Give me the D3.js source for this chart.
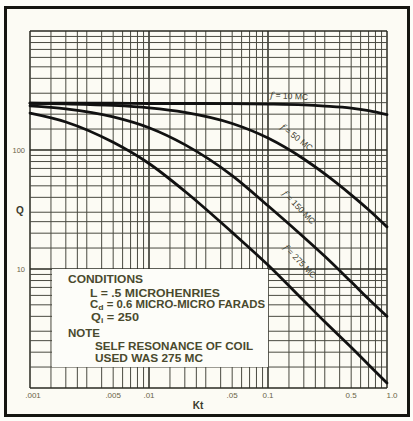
<!DOCTYPE html>
<html>
<head>
<meta charset="utf-8">
<script src="https://cdn.jsdelivr.net/npm/d3@7"></script>
<style>
html,body{margin:0;padding:0;background:#fdfdf8;}
svg{display:block;}
</style>
</head>
<body>
<svg id="chart" width="413" height="421"></svg>
<script>
// ---- data ----
const ktValues = [0.001, 0.002, 0.005, 0.01, 0.02, 0.05, 0.1, 0.2, 0.3, 0.5, 0.7, 1.0];
const qF10  = [247, 247, 247, 246, 246, 245, 243, 239, 234, 225, 214, 198];
const qF50  = [247, 244, 237, 226, 207, 167, 126, 84, 63, 42, 31.5, 22.6];
const qF150 = [235, 222, 190, 154, 111, 61, 34, 18.5, 12.8, 7.8, 5.6, 4.0];
const qF275 = [204, 172, 116, 77, 45, 20.3, 10.8, 5.4, 3.6, 2.2, 1.57, 1.1];
const seriesNames = ["10", "50", "150", "275"];
const xTickValues = [0.001, 0.005, 0.01, 0.05, 0.1, 0.5, 1.0];
const xTickLabels = [".001", ".005", ".01", ".05", "0.1", "0.5", "1.0"];
const yTickValues = [10, 100];
const yTickLabels = ["10", "100"];
const gridMultipliers = [1, 1.5, 2, 2.5, 3, 4, 5, 6, 7, 8, 9];
const conditionLines = ["CONDITIONS", "L = .5 MICROHENRIES", "Cd = 0.6 MICRO-MICRO FARADS", "Qi = 250", "NOTE", "SELF RESONANCE OF COIL", "USED WAS 275 MC"];

const svg = d3.select("#chart");
const x = d3.scaleLog().domain([0.001, 1]).range([30, 387]);
const y = d3.scaleLog().domain([1, 1000]).range([388, 31]);

// outer frame
svg.append("rect").attr("x", 5.5).attr("y", 7.5).attr("width", 403).attr("height", 408)
  .attr("fill", "#fcfbf4").attr("stroke", "#151510").attr("stroke-width", 3);

// grid
const xGrid = [];
[0.001, 0.01, 0.1].forEach(d => gridMultipliers.forEach(m => xGrid.push(d * m)));
xGrid.push(1);
const yGrid = [];
[1, 10, 100].forEach(d => gridMultipliers.forEach(m => yGrid.push(d * m)));
yGrid.push(1000);
const isMajor = v => Math.abs(Math.log10(v) - Math.round(Math.log10(v))) < 1e-6;

const g = svg.append("g");
g.selectAll("line.vx").data(xGrid).join("line").attr("class", "vx")
  .attr("x1", d => x(d)).attr("x2", d => x(d)).attr("y1", y(1000)).attr("y2", y(1))
  .attr("stroke", d => isMajor(d) ? "#2a2a22" : "#4a4a40")
  .attr("stroke-width", d => isMajor(d) ? 1.5 : 1);
g.selectAll("line.hy").data(yGrid).join("line").attr("class", "hy")
  .attr("y1", d => y(d)).attr("y2", d => y(d)).attr("x1", x(0.001)).attr("x2", x(1))
  .attr("stroke", d => isMajor(d) ? "#2a2a22" : "#4a4a40")
  .attr("stroke-width", d => isMajor(d) ? 1.5 : 1);

// conditions box
svg.append("rect").attr("x", 52).attr("y", 269).attr("width", 216).attr("height", 98)
  .attr("fill", "#fdfdf9");

// curves
const allSeries = [qF10, qF50, qF150, qF275];
const line = d3.line().x((d, i) => x(ktValues[i])).y(d => y(d)).curve(d3.curveMonotoneX);
svg.selectAll("path.curve").data(allSeries).join("path").attr("class", "curve")
  .attr("d", d => line(d)).attr("fill", "none").attr("stroke", "#111")
  .attr("stroke-width", 2.8).attr("stroke-linecap", "round");

// curve labels (placed just above each curve)
const labelPos = [
  {x: 270, y: 98, a: 3},
  {x: 280, y: 128, a: 38},
  {x: 282, y: 194, a: 46},
  {x: 283, y: 248, a: 46}
];
seriesNames.forEach((n, i) => {
  const p = labelPos[i];
  const t = svg.append("text").attr("transform", `translate(${p.x},${p.y}) rotate(${p.a})`)
    .attr("font-family", "Liberation Sans, Arial, sans-serif").attr("font-size", 8.5)
    .attr("fill", "#3a3a2c");
  t.append("tspan").attr("font-style", "italic").attr("font-family", "DejaVu Serif, serif").text("f");
  t.append("tspan").text(" = " + n + " MC");
});

// axis tick labels
const tickFont = "Liberation Sans, Arial, sans-serif";
svg.selectAll("text.xt").data(xTickValues).join("text").attr("class", "xt")
  .attr("x", (d, i) => x(d) + (i === xTickValues.length - 1 ? 5 : (i === 0 ? 3 : 0)))
  .attr("y", 398).attr("text-anchor", "middle")
  .attr("font-family", tickFont).attr("font-size", 8).attr("fill", "#6a6446")
  .text((d, i) => xTickLabels[i]);
svg.selectAll("text.yt").data(yTickValues).join("text").attr("class", "yt")
  .attr("x", 25).attr("y", d => y(d) + 3).attr("text-anchor", "end")
  .attr("font-family", tickFont).attr("font-size", 7.5).attr("fill", "#6a6446")
  .text((d, i) => yTickLabels[i]);

// axis titles
svg.append("text").attr("x", 20).attr("y", 214).attr("text-anchor", "middle")
  .attr("font-family", tickFont).attr("font-weight", "bold").attr("font-size", 10).attr("fill", "#3a3a2c").text("Q");
svg.append("text").attr("x", 198).attr("y", 409).attr("text-anchor", "middle")
  .attr("font-family", tickFont).attr("font-weight", "bold").attr("font-size", 10).attr("fill", "#3a3a2c").text("Kt");

// conditions text
const condLayout = [
  {x: 68, y: 283, w: 75},
  {x: 90, y: 297, w: 130},
  {x: 90, y: 308, w: 175},
  {x: 91, y: 321, w: 48},
  {x: 68, y: 337, w: 32},
  {x: 95, y: 350, w: 158},
  {x: 95, y: 362, w: 108}
];
conditionLines.forEach((s, i) => {
  const p = condLayout[i];
  const t = svg.append("text").attr("x", p.x).attr("y", p.y)
    .attr("font-family", "Liberation Sans, Arial, sans-serif").attr("font-weight", "bold")
    .attr("font-size", 10.5).attr("fill", "#4a4a2e")
    .attr("textLength", p.w).attr("lengthAdjust", "spacingAndGlyphs");
  if (s.startsWith("Cd")) {
    t.append("tspan").text("C");
    t.append("tspan").attr("font-size", 8).attr("dy", 2).text("d");
    t.append("tspan").attr("dy", -2).text(s.slice(2));
  } else if (s.startsWith("Qi")) {
    t.append("tspan").text("Q");
    t.append("tspan").attr("font-size", 7).attr("dy", 2).text("i");
    t.append("tspan").attr("dy", -2).text(s.slice(2));
  } else {
    t.text(s);
  }
});
</script>
</body>
</html>
